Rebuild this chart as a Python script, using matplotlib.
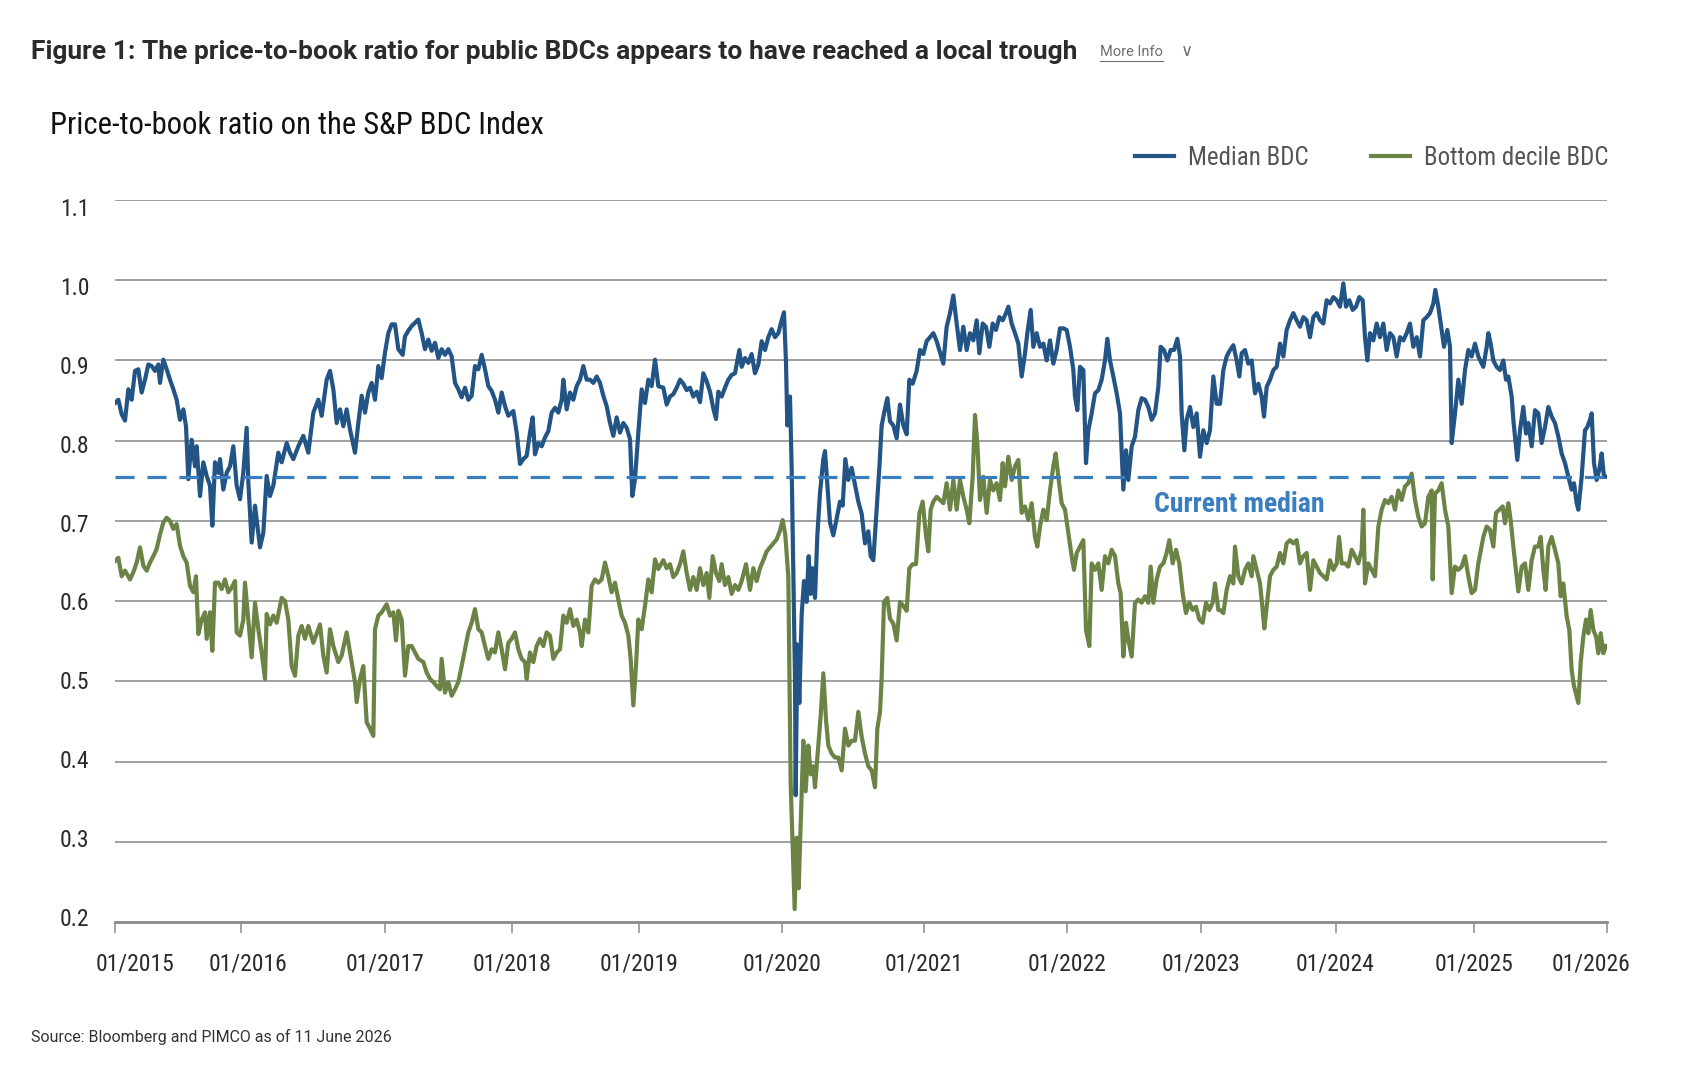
import matplotlib
matplotlib.use("Agg")
import matplotlib.pyplot as plt
from matplotlib.lines import Line2D
import matplotlib.transforms as mtransforms

# ---------------- data ----------------
# Values are read in segments; each point is (position within segment, P/B value)
median_a = [(45,.847),(55,.851),(65,.833),(75,.825),(85,.864),(95,.851),(105,.887),(115,.889),(125,.86),(135,.876),(145,.895),(155,.893),(165,.887),(175,.895),(180,.872),(190,.901),(200,.889),(210,.876),(220,.864),(230,.851),(240,.826),(250,.839),(258,.818),(265,.752),(275,.801),(285,.768),(290,.793),(300,.731),(310,.773),(320,.756),(330,.744),(337,.694),(345,.773),(355,.760),(360,.777),(370,.739),(380,.760),(390,.768),(400,.793),(410,.744),(420,.727),(430,.760),(440,.816),(445,.748),(455,.673),(465,.719),(475,.685),(480,.667),(490,.685),(500,.756),(510,.731),(520,.744),(535,.785),(545,.773),(560,.797),(570,.785),(580,.777),(595,.793),(610,.806),(625,.785),(640,.835),(655,.851),(665,.831),(680,.876),(690,.887),(700,.864),(710,.822),(720,.839),(730,.818),(740,.839),(750,.814),(765,.785),(775,.822),(785,.856),(795,.835),(805,.860),(815,.872),(825,.851),(835,.893),(845,.878),(855,.91),(865,.934),(875,.945),(885,.945),(895,.914)]
median_b = [(68,.907),(75,.93),(85,.937),(95,.943),(105,.947),(115,.951),(125,.934),(135,.914),(145,.926),(155,.912),(165,.922),(175,.903),(185,.914),(195,.907),(205,.914),(215,.905),(225,.872),(235,.864),(245,.854),(255,.866),(265,.851),(275,.856),(285,.893),(295,.889),(305,.907),(315,.889),(325,.868),(335,.862),(345,.851),(355,.835),(365,.86),(375,.843),(385,.831),(400,.837),(410,.81),(420,.771),(430,.777),(440,.781),(450,.81),(458,.829),(465,.783),(475,.797),(485,.793),(495,.804),(505,.812),(515,.835),(525,.841),(535,.835),(545,.851),(550,.876),(560,.839),(570,.86),(580,.851),(590,.868),(600,.876),(610,.893),(620,.876),(630,.876),(640,.872),(650,.88),(660,.872),(670,.856),(680,.843),(690,.822),(700,.806),(710,.829),(720,.81),(730,.822),(740,.816),(750,.802),(757,.731),(765,.752),(775,.81),(785,.864),(795,.847),(805,.876),(815,.868),(825,.901),(835,.868)]
median_c = [(10,.866),(20,.845),(30,.855),(40,.858),(50,.866),(60,.876),(70,.871),(80,.863),(90,.866),(100,.855),(110,.861),(120,.848),(130,.884),(140,.874),(150,.861),(160,.84),(168,.827),(175,.861),(185,.855),(195,.866),(205,.876),(215,.882),(225,.884),(238,.913),(245,.892),(255,.903),(265,.897),(275,.908),(285,.884),(295,.895),(305,.924),(315,.913),(325,.929),(335,.939),(345,.929),(355,.934),(365,.95),(372,.96),(378,.897),(382,.819),(390,.855),(395,.766),(400,.635),(405,.504),(407,.358),(412,.546),(418,.473),(425,.583),(432,.625),(440,.599),(446,.656),(452,.609),(458,.641),(465,.604),(472,.682),(480,.735),(490,.777),(495,.787),(502,.745),(510,.698),(520,.682),(530,.703),(540,.724),(548,.719),(556,.777),(565,.751),(575,.766),(585,.745),(595,.724),(605,.709),(615,.672),(625,.687),(632,.656),(640,.651),(650,.714),(658,.766),(665,.819),(675,.84),(682,.853),(690,.824),(700,.819),(710,.803),(720,.845),(730,.819),(740,.808),(748,.876),(758,.871),(770,.887),(780,.913),(790,.908),(800,.924),(810,.929),(820,.934),(830,.924)]
median_d = [(10,.896),(20,.942),(30,.959),(40,.981),(50,.946),(60,.913),(70,.942),(80,.913),(90,.934),(100,.925),(110,.95),(118,.909),(128,.946),(138,.942),(148,.917),(158,.946),(168,.938),(178,.954),(188,.95),(198,.959),(205,.967),(215,.946),(225,.934),(235,.921),(245,.88),(255,.909),(262,.934),(272,.963),(280,.917),(290,.934),(300,.917),(310,.921),(320,.9),(330,.925),(340,.896),(350,.913),(360,.94),(370,.94),(380,.938),(390,.917),(400,.888),(405,.855),(412,.838),(420,.892),(430,.888),(438,.772),(445,.813),(455,.834),(465,.859),(475,.863),(485,.876),(495,.9),(502,.927),(510,.9),(520,.88),(530,.859),(540,.834),(550,.739),(558,.788),(565,.751),(575,.793),(585,.805),(595,.838),(605,.853),(615,.851),(625,.842),(635,.826),(645,.834),(655,.867),(662,.917),(672,.913),(682,.9),(692,.913),(702,.913),(712,.927),(720,.905),(725,.834),(733,.788),(740,.826),(750,.842),(760,.817),(770,.834),(780,.78),(790,.813),(800,.797),(810,.813),(820,.88),(830,.846)]
median_e = [(0,.846),(10,.888),(20,.905),(30,.913),(40,.919),(50,.9),(58,.88),(65,.909),(75,.913),(85,.896),(95,.9),(105,.859),(115,.871),(125,.855),(132,.83),(140,.867),(150,.876),(160,.888),(170,.892),(180,.921),(190,.905),(200,.938),(210,.95),(220,.959),(230,.95),(240,.942),(250,.954),(260,.95),(270,.929),(280,.954),(290,.959),(300,.95),(310,.946),(320,.975),(330,.971),(340,.979),(350,.975),(360,.967),(370,.996),(378,.967),(388,.975),(398,.963),(408,.967),(418,.979),(428,.975),(435,.929),(442,.9),(450,.934),(460,.925),(470,.946),(480,.929),(490,.946),(500,.913),(510,.934),(520,.929),(530,.905),(540,.929),(550,.925),(560,.934),(570,.946),(580,.917),(590,.929),(600,.905),(610,.95),(620,.954),(630,.959),(640,.971),(646,.988),(655,.967),(665,.938),(672,.917),(682,.938),(690,.917),(695,.797),(705,.834),(715,.876),(725,.846),(735,.888),(745,.913),(755,.905),(765,.921),(775,.905)]
median_f = [(10,.892),(20,.917),(25,.934),(32,.921),(40,.9),(50,.892),(60,.888),(70,.9),(78,.876),(85,.88),(95,.855),(100,.826),(105,.805),(112,.776),(120,.813),(130,.842),(138,.809),(145,.822),(155,.793),(165,.838),(175,.834),(185,.797),(195,.817),(205,.842),(215,.83),(225,.822),(235,.805),(245,.784),(255,.772),(265,.755),(275,.739),(282,.747),(290,.722),(295,.714),(305,.755),(315,.813),(322,.817),(330,.826),(335,.834),(342,.772),(350,.751),(358,.764),(365,.784),(372,.755),(380,.755)]

bottom_a = [(45,.650),(55,.654),(65,.631),(75,.638),(90,.627),(100,.636),(110,.648),(120,.667),(130,.644),(140,.638),(150,.648),(160,.656),(170,.665),(180,.683),(190,.698),(200,.704),(210,.70),(220,.69),(230,.696),(240,.669),(250,.656),(260,.648),(270,.619),(280,.611),(288,.631),(295,.559),(305,.577),(315,.586),(320,.553),(330,.586),(337,.538),(345,.623),(355,.623),(365,.615),(375,.627),(385,.611),(395,.617),(405,.625),(410,.561),(420,.557),(430,.577),(435,.623),(445,.577),(455,.53),(465,.598),(475,.565),(485,.536),(495,.503),(500,.584),(510,.571),(520,.582),(530,.573),(545,.604),(555,.6),(565,.577),(575,.519),(585,.507),(595,.557),(605,.569),(615,.553),(625,.569),(640,.548),(660,.571),(670,.532),(680,.511),(690,.565),(700,.544),(715,.524),(725,.532),(740,.561),(750,.536),(765,.499),(770,.474),(780,.503),(790,.519),(800,.449),(810,.441),(820,.432),(825,.565),(835,.582),(845,.586),(860,.596),(870,.582),(880,.586),(888,.551),(895,.588)]
bottom_b = [(65,.577),(75,.507),(85,.544),(95,.544),(105,.536),(115,.528),(130,.524),(140,.511),(150,.503),(160,.499),(170,.494),(180,.49),(185,.528),(195,.486),(205,.499),(215,.482),(225,.49),(235,.499),(245,.519),(255,.54),(265,.561),(275,.573),(285,.59),(295,.565),(305,.561),(315,.544),(325,.528),(335,.54),(345,.536),(355,.561),(365,.54),(375,.515),(385,.548),(395,.553),(405,.561),(415,.54),(425,.528),(435,.524),(440,.503),(450,.536),(460,.524),(470,.544),(480,.553),(490,.544),(500,.561),(510,.557),(520,.528),(530,.536),(540,.54),(550,.582),(560,.573),(570,.59),(580,.569),(590,.577),(600,.561),(605,.544),(615,.577),(625,.561),(635,.619),(645,.627),(655,.623),(665,.627),(675,.648),(685,.631),(695,.611),(705,.623),(715,.602),(725,.582),(735,.573),(745,.557),(752,.528),(760,.47),(768,.519),(775,.577),(785,.565),(795,.594),(805,.627),(815,.611),(825,.652),(835,.64)]
bottom_c = [(10,.651),(20,.641),(30,.646),(40,.63),(50,.635),(60,.646),(70,.662),(80,.635),(90,.614),(100,.63),(110,.614),(120,.641),(130,.62),(140,.635),(148,.604),(158,.656),(168,.635),(178,.625),(185,.646),(195,.62),(205,.63),(215,.609),(225,.62),(235,.614),(245,.625),(258,.646),(270,.614),(280,.641),(290,.625),(300,.641),(310,.651),(320,.662),(330,.667),(340,.672),(350,.677),(360,.688),(368,.701),(376,.682),(385,.63),(392,.373),(398,.295),(404,.216),(410,.305),(416,.242),(422,.321),(430,.426),(437,.363),(445,.42),(452,.384),(460,.394),(465,.368),(475,.42),(482,.457),(490,.51),(498,.452),(505,.42),(515,.41),(525,.405),(535,.405),(545,.389),(555,.441),(565,.42),(575,.426),(585,.426),(595,.462),(605,.431),(615,.41),(625,.394),(635,.389),(645,.368),(652,.441),(660,.462),(665,.504),(672,.599),(682,.604),(690,.578),(700,.572),(710,.551),(720,.599),(730,.594),(740,.588),(748,.641),(758,.646),(768,.646),(778,.709),(788,.724),(798,.682),(805,.662),(812,.714),(820,.724),(830,.73)]
bottom_d = [(10,.722),(20,.747),(30,.714),(40,.751),(50,.714),(60,.751),(70,.73),(80,.714),(88,.697),(98,.755),(105,.832),(112,.797),(120,.726),(130,.755),(140,.71),(150,.751),(160,.738),(170,.747),(180,.726),(188,.772),(195,.743),(205,.78),(215,.751),(225,.768),(235,.776),(245,.71),(255,.718),(265,.701),(275,.722),(285,.68),(292,.668),(300,.693),(310,.714),(320,.701),(330,.738),(340,.768),(347,.784),(355,.755),(365,.722),(375,.714),(385,.685),(395,.656),(402,.639),(410,.66),(420,.668),(430,.676),(438,.564),(448,.544),(455,.647),(465,.639),(475,.647),(485,.614),(495,.656),(505,.647),(515,.664),(525,.656),(535,.622),(542,.61),(550,.531),(558,.573),(565,.552),(575,.531),(585,.598),(595,.602),(605,.598),(615,.606),(625,.598),(632,.643),(640,.598),(650,.627),(660,.643),(670,.647),(680,.66),(688,.676),(698,.647),(708,.664),(718,.647),(728,.61),(738,.585),(748,.598),(758,.589),(768,.593),(778,.577),(788,.573),(798,.598),(808,.589),(818,.598),(825,.622),(835,.589)]
bottom_e = [(0,.589),(10,.585),(20,.614),(30,.631),(40,.622),(45,.668),(55,.631),(65,.622),(75,.639),(85,.647),(95,.631),(100,.656),(110,.639),(120,.622),(128,.589),(133,.566),(140,.593),(150,.631),(160,.639),(170,.643),(180,.66),(190,.647),(200,.672),(210,.676),(220,.672),(230,.676),(240,.647),(250,.656),(260,.66),(270,.614),(280,.651),(290,.643),(300,.635),(310,.631),(320,.627),(330,.651),(340,.639),(350,.647),(357,.68),(365,.647),(375,.647),(385,.643),(395,.664),(405,.656),(415,.647),(425,.664),(430,.714),(435,.622),(445,.647),(455,.639),(465,.631),(475,.693),(485,.714),(495,.726),(505,.722),(515,.73),(525,.714),(535,.738),(545,.726),(555,.743),(565,.747),(575,.759),(585,.726),(595,.705),(605,.693),(615,.697),(625,.73),(635,.738),(638,.627),(645,.734),(655,.738),(665,.747),(675,.714),(685,.693),(695,.61),(705,.643),(715,.639),(725,.643),(735,.656),(745,.631),(755,.61),(765,.614),(775,.647)]
bottom_f = [(10,.68),(20,.693),(30,.689),(40,.668),(48,.71),(58,.714),(68,.718),(75,.697),(85,.722),(92,.701),(100,.668),(110,.631),(115,.612),(125,.643),(135,.647),(145,.614),(155,.651),(165,.668),(175,.668),(182,.68),(190,.639),(197,.614),(205,.668),(215,.68),(225,.664),(235,.647),(242,.606),(250,.622),(260,.581),(268,.564),(275,.514),(282,.494),(290,.481),(295,.473),(302,.523),(310,.556),(318,.577),(325,.56),(332,.589),(340,.564),(348,.556),(355,.535),(362,.56),(370,.535),(378,.544)]

# where each segment starts along the (trading-day style) axis
segment_starts = [-14.6, 265.4, 545.4, 825.4, 1105.4, 1365.4]
segment_scale = 3.0

current_median = 0.755

tick_positions = [0, 126.5, 270.4, 397.4, 524.4, 667.4, 809.4, 952.4, 1086.4, 1220.9, 1359.0, 1492.1]
tick_labels = ["01/2015", "01/2016", "01/2017", "01/2018", "01/2019", "01/2020",
               "01/2021", "01/2022", "01/2023", "01/2024", "01/2025", "01/2026"]
y_ticks = [0.2, 0.3, 0.4, 0.5, 0.6, 0.7, 0.8, 0.9, 1.0, 1.1]


def assemble(segments):
    xs, ys = [], []
    for start, seg in zip(segment_starts, segments):
        for p, v in seg:
            xs.append(start + p / segment_scale)
            ys.append(v)
    return xs, ys


med_x, med_y = assemble([median_a, median_b, median_c, median_d, median_e, median_f])
bot_x, bot_y = assemble([bottom_a, bottom_b, bottom_c, bottom_d, bottom_e, bottom_f])

# ---------------- styling ----------------
COND = ["Roboto Condensed", "Liberation Sans Narrow", "Roboto", "DejaVu Sans"]
plt.rcParams["font.family"] = COND
BLUE = "#235486"
GREEN = "#6b8446"
DASH = "#3a7ebf"
GRID = "#999999"

fig = plt.figure(figsize=(16.84, 10.86), dpi=100)
ax = fig.add_axes([114.6 / 1684, 1 - 922 / 1086, (1606.7 - 114.6) / 1684, (922 - 200) / 1086])

ax.set_xlim(tick_positions[0], tick_positions[-1])
ax.set_ylim(0.2, 1.1)

for yv in y_ticks[1:]:
    ax.axhline(yv, color=GRID, lw=1.3, zorder=1)

ax.plot(bot_x, bot_y, color=GREEN, lw=3.0, zorder=3, solid_joinstyle="round")
ax.plot(med_x, med_y, color=BLUE, lw=3.0, zorder=4, solid_joinstyle="round")
ax.axhline(current_median, color=DASH, lw=2.3, dashes=(6, 4), zorder=5)

ax.text(1125, 0.721, "Current median", color=DASH, fontsize=20, fontweight="bold",
        ha="center", va="center", zorder=6)

for s in ["top", "right", "left"]:
    ax.spines[s].set_visible(False)
ax.spines["bottom"].set_color("#8a8a8a")
ax.spines["bottom"].set_linewidth(2.0)
ax.spines["bottom"].set_zorder(2)

ax.set_xticks(tick_positions)
ax.set_xticklabels(tick_labels)
ax.set_yticks(y_ticks)
ax.set_yticklabels([f"{v:.1f}" for v in y_ticks])
ax.tick_params(axis="x", length=8, width=1.1, color="#8a8a8a", pad=14, labelsize=17, labelcolor="#2a2a2a")
ax.tick_params(axis="y", length=0, pad=18, labelsize=17, labelcolor="#2a2a2a")

# date labels: first/last pulled inside the plot span, as in the reference
x_label_shift_in = {0: 0.20, 1: 0.064, len(tick_labels) - 1: -0.16}
for i, lab in enumerate(ax.get_xticklabels()):
    if i in x_label_shift_in:
        lab.set_transform(lab.get_transform() +
                          mtransforms.ScaledTranslation(x_label_shift_in[i], 0, fig.dpi_scale_trans))

# value labels sit on a slightly compressed scale in the reference
for lab, v in zip(ax.get_yticklabels(), y_ticks):
    dy_px = -5 + (v - 0.2) / 0.9 * 12      # pixels downward
    lab.set_transform(lab.get_transform() +
                      mtransforms.ScaledTranslation(0, -dy_px / 100, fig.dpi_scale_trans))

# legend
handles = [Line2D([], [], color=BLUE, lw=3.0), Line2D([], [], color=GREEN, lw=3.0)]
fig.legend(handles, ["Median BDC", "Bottom decile BDC"], loc="center right",
           bbox_to_anchor=(1608 / 1684, 1 - 158 / 1086), ncol=2, frameon=False,
           fontsize=18, labelcolor="#555555", handlelength=1.55, handletextpad=0.56,
           columnspacing=2.5, borderpad=0, borderaxespad=0)

# titles
fig.text(31 / 1684, 1 - 52 / 1086, "Figure 1: The price-to-book ratio for public BDCs appears to have reached a local trough",
         fontsize=19, fontweight="bold", color="#2b2b2b", ha="left", va="center",
         family=["Roboto", "DejaVu Sans"])
mi = fig.text(1100 / 1684, 1 - 52 / 1086, "More Info", fontsize=10.5, color="#6e6e6e",
              ha="left", va="center", family=["Roboto", "DejaVu Sans"])
fig.text(1181 / 1684, 1 - 51 / 1086, "\u2228", fontsize=12, color="#6e6e6e",
         ha="left", va="center", family=["DejaVu Sans"])
fig.text(50 / 1684, 1 - 125 / 1086, "Price-to-book ratio on the S&P BDC Index",
         fontsize=22.1, color="#111111", ha="left", va="center")
fig.text(31 / 1684, 1 - 1037 / 1086, "Source: Bloomberg and PIMCO as of 11 June 2026",
         fontsize=11.5, color="#333333", ha="left", va="center", family=["Roboto", "DejaVu Sans"])

# underline under "More Info"
fig.canvas.draw()
bb = mi.get_window_extent().transformed(fig.transFigure.inverted())
fig.add_artist(Line2D([bb.x0, bb.x1], [bb.y0 - 0.002, bb.y0 - 0.002], transform=fig.transFigure,
                      color="#6e6e6e", lw=0.8))

fig.savefig("out.png", dpi=100, facecolor="white")
